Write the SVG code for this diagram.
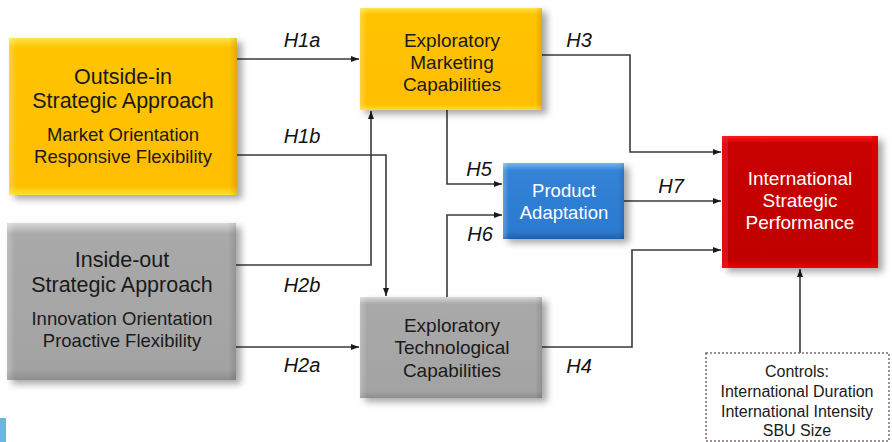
<svg xmlns="http://www.w3.org/2000/svg" width="892" height="442" viewBox="0 0 892 442">
<defs>
<style>
.t{font-family:"Liberation Sans",Arial,sans-serif;text-anchor:middle;fill:#1a1a1a}
.w{fill:#ffffff}
.lbl{font-family:"Liberation Sans",Arial,sans-serif;font-style:italic;font-size:20px;text-anchor:middle;fill:#111}
.c{fill:none;stroke:#3a3a3a;stroke-width:1.6}
</style>
<filter id="sh" x="-10%" y="-10%" width="130%" height="130%">
<feDropShadow dx="5" dy="4" stdDeviation="3.5" flood-color="#000" flood-opacity="0.35"/>
</filter>
<marker id="ah" viewBox="0 0 8 6" refX="8" refY="3" markerWidth="8" markerHeight="6" markerUnits="userSpaceOnUse" orient="auto">
<path d="M0,0 L8,3 L0,6 Z" fill="#1a1a1a"/>
</marker>
<linearGradient id="gy" x1="0" y1="0" x2="0" y2="1">
<stop offset="0" stop-color="#FFE34A"/><stop offset="0.06" stop-color="#FFC400"/><stop offset="0.94" stop-color="#FFBE00"/><stop offset="1" stop-color="#FFE030"/>
</linearGradient>
<linearGradient id="gg" x1="0" y1="0" x2="0" y2="1">
<stop offset="0" stop-color="#D8D8D8"/><stop offset="0.07" stop-color="#A9A9A9"/><stop offset="0.93" stop-color="#A3A3A3"/><stop offset="1" stop-color="#8E8E8E"/>
</linearGradient>
<linearGradient id="gb" x1="0" y1="0" x2="0" y2="1">
<stop offset="0" stop-color="#6DB8F5"/><stop offset="0.1" stop-color="#3283D6"/><stop offset="0.9" stop-color="#2C7AD0"/><stop offset="1" stop-color="#1E5FAA"/>
</linearGradient>
<linearGradient id="gr" x1="0" y1="0" x2="0" y2="1">
<stop offset="0" stop-color="#FF1A1A"/><stop offset="0.06" stop-color="#C80000"/><stop offset="0.94" stop-color="#C00000"/><stop offset="1" stop-color="#F00000"/>
</linearGradient>
<linearGradient id="sideL" x1="0" y1="0" x2="1" y2="0">
<stop offset="0" stop-color="#fff" stop-opacity="0.25"/><stop offset="1" stop-color="#fff" stop-opacity="0"/>
</linearGradient>
<linearGradient id="sideR" x1="0" y1="0" x2="1" y2="0">
<stop offset="0" stop-color="#000" stop-opacity="0"/><stop offset="1" stop-color="#000" stop-opacity="0.12"/>
</linearGradient>
</defs>
<rect width="892" height="442" fill="#ffffff"/>

<g id="connectors">
<path class="c" d="M237,59 H359" marker-end="url(#ah)"/>
<path class="c" d="M237,155 H386 V296" marker-end="url(#ah)"/>
<path class="c" d="M236,265 H371 V111" marker-end="url(#ah)"/>
<path class="c" d="M236,347 H359" marker-end="url(#ah)"/>
<path class="c" d="M542,55 H630 V152 H721" marker-end="url(#ah)"/>
<path class="c" d="M624,201 H721" marker-end="url(#ah)"/>
<path class="c" d="M542,347 H632 V250 H721" marker-end="url(#ah)"/>
<path class="c" d="M447,110 V184 H502" marker-end="url(#ah)"/>
<path class="c" d="M447,297 V215 H502" marker-end="url(#ah)"/>
<path class="c" d="M800,353 V269" marker-end="url(#ah)"/>
<text class="lbl" x="302" y="47">H1a</text>
<text class="lbl" x="302" y="143">H1b</text>
<text class="lbl" x="302" y="292">H2b</text>
<text class="lbl" x="302" y="372">H2a</text>
<text class="lbl" x="579" y="47">H3</text>
<text class="lbl" x="479" y="176">H5</text>
<text class="lbl" x="480" y="241">H6</text>
<text class="lbl" x="671" y="193">H7</text>
<text class="lbl" x="579" y="373">H4</text>
</g>

<g id="outside-in">
<rect x="9" y="38" width="228" height="157" fill="url(#gy)" filter="url(#sh)"/>
<rect x="9" y="38" width="8" height="157" fill="url(#sideL)"/>
<rect x="229" y="38" width="8" height="157" fill="url(#sideR)"/>
<text class="t" x="123" y="84" font-size="21.5">Outside-in</text>
<text class="t" x="123" y="108" font-size="21.5">Strategic Approach</text>
<text class="t" x="123" y="141" font-size="18.5">Market Orientation</text>
<text class="t" x="123" y="163" font-size="18.5">Responsive Flexibility</text>
</g>

<g id="inside-out">
<rect x="7" y="223" width="229" height="157" fill="url(#gg)" filter="url(#sh)"/>
<rect x="7" y="223" width="8" height="157" fill="url(#sideL)"/>
<rect x="228" y="223" width="8" height="157" fill="url(#sideR)"/>
<text class="t" x="122" y="267" font-size="21.5">Inside-out</text>
<text class="t" x="122" y="292" font-size="21.5">Strategic Approach</text>
<text class="t" x="122" y="325" font-size="18.5">Innovation Orientation</text>
<text class="t" x="122" y="347" font-size="18.5">Proactive Flexibility</text>
</g>

<g id="exploratory-marketing">
<rect x="360" y="8" width="182" height="102" fill="url(#gy)" filter="url(#sh)"/>
<rect x="360" y="8" width="7" height="102" fill="url(#sideL)"/>
<rect x="535" y="8" width="7" height="102" fill="url(#sideR)"/>
<text class="t" x="452" y="47" font-size="19">Exploratory</text>
<text class="t" x="452" y="69" font-size="19">Marketing</text>
<text class="t" x="452" y="91" font-size="19">Capabilities</text>
</g>

<g id="exploratory-technological">
<rect x="360" y="297" width="182" height="101" fill="url(#gg)" filter="url(#sh)"/>
<rect x="360" y="297" width="7" height="101" fill="url(#sideL)"/>
<rect x="535" y="297" width="7" height="101" fill="url(#sideR)"/>
<text class="t" x="452" y="332" font-size="19">Exploratory</text>
<text class="t" x="452" y="354" font-size="19">Technological</text>
<text class="t" x="452" y="377" font-size="19">Capabilities</text>
</g>

<g id="product-adaptation">
<rect x="503" y="163" width="121" height="76" fill="url(#gb)" filter="url(#sh)"/>
<rect x="503" y="163" width="6" height="76" fill="url(#sideL)"/>
<rect x="618" y="163" width="6" height="76" fill="url(#sideR)"/>
<text class="t w" x="564" y="197" font-size="18.5">Product</text>
<text class="t w" x="564" y="219" font-size="18.5">Adaptation</text>
</g>

<g id="international-performance">
<rect x="722" y="136" width="156" height="132" fill="url(#gr)" filter="url(#sh)"/>
<rect x="722" y="136" width="6" height="132" fill="#FF2020" opacity="0.5"/>
<rect x="872" y="136" width="6" height="132" fill="#E00000" opacity="0.6"/>
<text class="t w" x="800" y="185" font-size="19">International</text>
<text class="t w" x="800" y="207" font-size="19">Strategic</text>
<text class="t w" x="800" y="229" font-size="19">Performance</text>
</g>

<g id="controls">
<rect x="706" y="353" width="183" height="88" fill="#ffffff" stroke="#7a6a6a" stroke-width="1.5" stroke-dasharray="2,2"/>
<text class="t" x="797" y="377" font-size="16">Controls:</text>
<text class="t" x="797" y="397" font-size="16">International Duration</text>
<text class="t" x="797" y="417" font-size="16">International Intensity</text>
<text class="t" x="797" y="436" font-size="16">SBU Size</text>
</g>

<rect x="0" y="418" width="6" height="24" fill="#6BB8DC"/>
</svg>
